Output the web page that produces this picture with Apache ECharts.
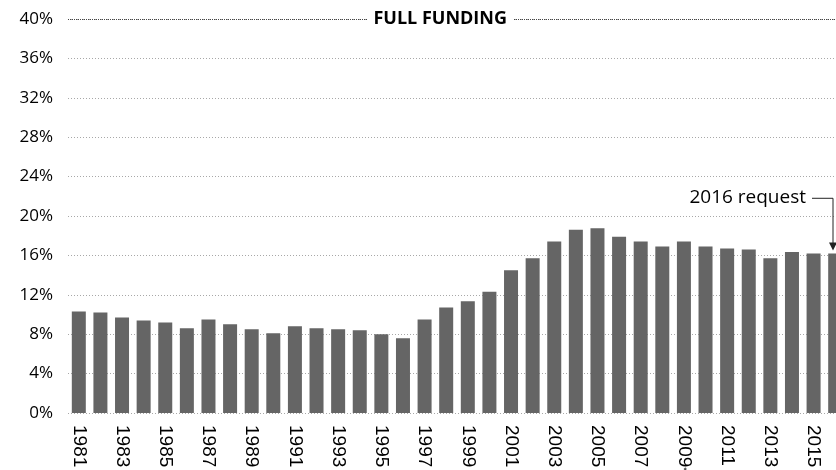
<!DOCTYPE html>
<html>
<head>
<meta charset="utf-8">
<script src="https://cdn.jsdelivr.net/npm/echarts@6/dist/echarts.min.js"></script>
<style>html,body{margin:0;padding:0;background:#fff}#c{width:836px;height:470px}</style>
</head>
<body>
<div id="c"></div>
<script>
var years = ['1981','1982','1983','1984','1985','1986','1987','1988','1989','1990','1991','1992','1993','1994','1995','1996','1997','1998','1999','2000','2001','2002','2003','2004','2005','2006','2007','2008','2009','2010','2011','2012','2013','2014','2015','2016'];
var shares = [10.3,10.2,9.7,9.4,9.2,8.6,9.5,9.0,8.5,8.1,8.8,8.6,8.5,8.4,8.0,7.6,9.5,10.7,11.35,12.3,14.5,15.7,17.4,18.6,18.75,17.9,17.4,16.9,17.4,16.9,16.7,16.6,15.7,16.35,16.2,16.2];
var yTicks = [0,4,8,12,16,20,24,28,32,36,40];
var fullFunding = 40;
var fullFundingLabel = 'FULL FUNDING';
var requestLabel = '2016 request';
var requestYear = '2016';
var footnoteYear = '2009';

var chart = echarts.init(document.getElementById('c'));
chart.setOption({
  animation: false,
  grid: {left: 68, width: 778, top: 19, bottom: 57, containLabel: false, outerBoundsMode: 'none'},
  xAxis: {
    type: 'category',
    data: years,
    axisLine: {show: false},
    axisTick: {show: false},
    axisLabel: {
      interval: 1,
      rotate: -90,
      margin: 12,
      fontFamily: 'Liberation Sans',
      fontSize: 19,
      color: '#000',
      formatter: function (v) { return v === footnoteYear ? v + '{s|*}' : v; },
      rich: {s: {fontSize: 9, fontFamily: 'Liberation Sans', color: '#000'}}
    }
  },
  yAxis: {
    type: 'value',
    min: yTicks[0],
    max: yTicks[yTicks.length - 1],
    interval: yTicks[1] - yTicks[0],
    axisLine: {show: false},
    axisTick: {show: false},
    axisLabel: {
      formatter: '{value}%',
      margin: 15,
      fontFamily: 'Open Sans',
      fontSize: 17,
      color: '#000'
    },
    splitLine: {lineStyle: {type: [1, 2], color: '#a8a8a8', width: 1}}
  },
  series: [{
    type: 'bar',
    data: shares,
    barWidth: 14,
    itemStyle: {color: '#656565'},
    markLine: {
      silent: true,
      symbol: 'none',
      label: {show: false},
      lineStyle: {type: [1, 1], color: '#444', width: 1.2},
      data: [{yAxis: fullFunding}]
    }
  }]
});

function place() {
  var y40 = chart.convertToPixel({yAxisIndex: 0}, fullFunding);
  var xMid = chart.convertToPixel({xAxisIndex: 0}, '1998') - 6;
  var xReq = Math.min(chart.convertToPixel({xAxisIndex: 0}, requestYear) - 2, 833);
  var idx = years.indexOf(requestYear);
  var yTop = chart.convertToPixel({yAxisIndex: 0}, shares[idx]) - 3;
  var yText = chart.convertToPixel({yAxisIndex: 0}, 21.9);
  chart.setOption({
    graphic: [
      {type: 'text', x: xMid, y: y40, style: {
        text: fullFundingLabel, fontFamily: 'Open Sans', fontWeight: 'bold', fontSize: 18,
        fill: '#000', align: 'center', verticalAlign: 'middle',
        backgroundColor: '#fff', padding: [2, 6]
      }, z: 10},
      {type: 'text', x: xReq - 27, y: yText, style: {
        text: requestLabel, fontFamily: 'Open Sans', fontSize: 19,
        fill: '#000', align: 'right', verticalAlign: 'middle'
      }, z: 10},
      {type: 'polyline', shape: {points: [[xReq - 21, yText + 1], [xReq, yText + 1], [xReq, yTop - 6]]},
        style: {stroke: '#222', lineWidth: 1, fill: null}, z: 10},
      {type: 'polygon', shape: {points: [[xReq - 4, yTop - 8], [xReq + 4, yTop - 8], [xReq, yTop]]},
        style: {fill: '#222'}, z: 10}
    ]
  });
}
place();
</script>
</body>
</html>
